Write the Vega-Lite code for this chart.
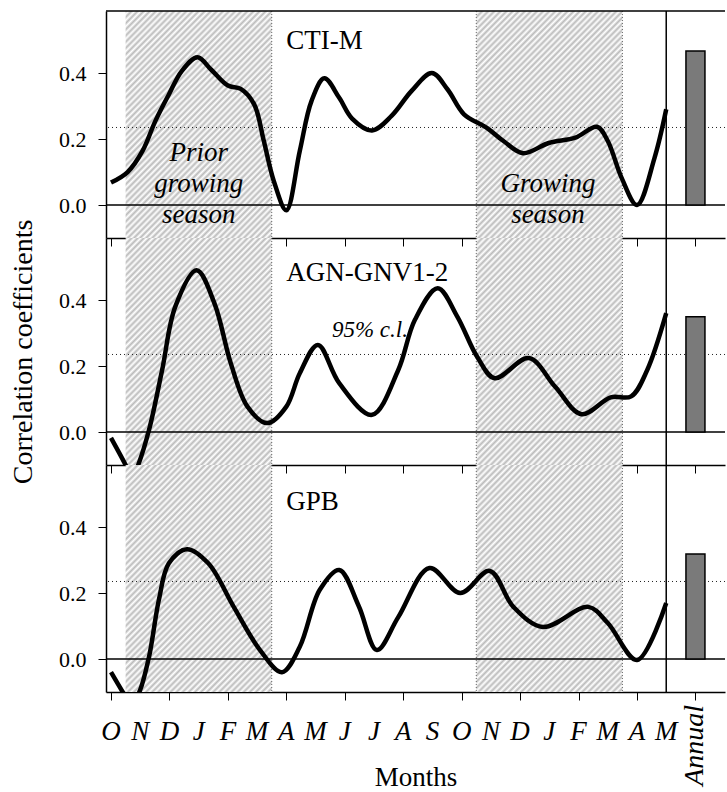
{
"$schema": "https://vega.github.io/schema/vega-lite/v6.json",
"padding": {"left": 9, "top": 10, "right": 0, "bottom": 0},
"bounds": "flush",
"spacing": 0,
"config": {
  "view": {"stroke": null},
  "font": "Liberation Serif",
  "axis": {"grid": false, "domainColor": "#000", "domainWidth": 1.5, "tickColor": "#000", "tickWidth": 1, "tickSize": 8, "labelColor": "#000", "labelFont": "Liberation Serif", "titleColor": "#000", "titleFont": "Liberation Serif", "titleFontWeight": "normal", "labelOverlap": false, "labelFlush": false}
},
"datasets": {
  "curves": [
    {"panel":"CTI-M","m":0,"r":0.068},{"panel":"CTI-M","m":0.57,"r":0.1},{"panel":"CTI-M","m":1.08,"r":0.164},{"panel":"CTI-M","m":1.52,"r":0.255},{"panel":"CTI-M","m":1.98,"r":0.335},{"panel":"CTI-M","m":2.42,"r":0.406},{"panel":"CTI-M","m":2.96,"r":0.448},{"panel":"CTI-M","m":3.43,"r":0.41},{"panel":"CTI-M","m":4.0,"r":0.362},{"panel":"CTI-M","m":4.44,"r":0.352},{"panel":"CTI-M","m":4.9,"r":0.305},{"panel":"CTI-M","m":5.23,"r":0.194},{"panel":"CTI-M","m":5.57,"r":0.073},{"panel":"CTI-M","m":6.0,"r":-0.016},{"panel":"CTI-M","m":6.46,"r":0.164},{"panel":"CTI-M","m":6.86,"r":0.315},{"panel":"CTI-M","m":7.3,"r":0.384},{"panel":"CTI-M","m":7.81,"r":0.325},{"panel":"CTI-M","m":8.25,"r":0.262},{"panel":"CTI-M","m":8.93,"r":0.226},{"panel":"CTI-M","m":9.6,"r":0.27},{"panel":"CTI-M","m":10.28,"r":0.345},{"panel":"CTI-M","m":10.98,"r":0.4},{"panel":"CTI-M","m":11.52,"r":0.35},{"panel":"CTI-M","m":12.08,"r":0.275},{"panel":"CTI-M","m":12.86,"r":0.234},{"panel":"CTI-M","m":13.43,"r":0.194},{"panel":"CTI-M","m":14.1,"r":0.157},{"panel":"CTI-M","m":14.98,"r":0.188},{"panel":"CTI-M","m":15.89,"r":0.204},{"panel":"CTI-M","m":16.63,"r":0.237},{"panel":"CTI-M","m":17.0,"r":0.194},{"panel":"CTI-M","m":17.47,"r":0.083},{"panel":"CTI-M","m":18.0,"r":0.0},{"panel":"CTI-M","m":18.6,"r":0.143},{"panel":"CTI-M","m":19.0,"r":0.29},
    {"panel":"AGN-GNV1-2","m":0,"r":-0.018},{"panel":"AGN-GNV1-2","m":0.5,"r":-0.1},{"panel":"AGN-GNV1-2","m":0.72,"r":-0.14},{"panel":"AGN-GNV1-2","m":0.93,"r":-0.1},{"panel":"AGN-GNV1-2","m":1.3,"r":0.006},{"panel":"AGN-GNV1-2","m":1.75,"r":0.188},{"panel":"AGN-GNV1-2","m":2.2,"r":0.38},{"panel":"AGN-GNV1-2","m":2.93,"r":0.49},{"panel":"AGN-GNV1-2","m":3.54,"r":0.39},{"panel":"AGN-GNV1-2","m":4.1,"r":0.208},{"panel":"AGN-GNV1-2","m":4.67,"r":0.077},{"panel":"AGN-GNV1-2","m":5.35,"r":0.027},{"panel":"AGN-GNV1-2","m":6.0,"r":0.077},{"panel":"AGN-GNV1-2","m":6.46,"r":0.178},{"panel":"AGN-GNV1-2","m":7.08,"r":0.264},{"panel":"AGN-GNV1-2","m":7.81,"r":0.148},{"panel":"AGN-GNV1-2","m":8.93,"r":0.052},{"panel":"AGN-GNV1-2","m":9.83,"r":0.188},{"panel":"AGN-GNV1-2","m":10.4,"r":0.34},{"panel":"AGN-GNV1-2","m":11.18,"r":0.436},{"panel":"AGN-GNV1-2","m":11.85,"r":0.35},{"panel":"AGN-GNV1-2","m":12.53,"r":0.228},{"panel":"AGN-GNV1-2","m":13.13,"r":0.163},{"panel":"AGN-GNV1-2","m":14.3,"r":0.224},{"panel":"AGN-GNV1-2","m":15.2,"r":0.137},{"panel":"AGN-GNV1-2","m":16.1,"r":0.054},{"panel":"AGN-GNV1-2","m":17.1,"r":0.105},{"panel":"AGN-GNV1-2","m":17.8,"r":0.108},{"panel":"AGN-GNV1-2","m":18.35,"r":0.188},{"panel":"AGN-GNV1-2","m":19.0,"r":0.36},
    {"panel":"GPB","m":0,"r":-0.04},{"panel":"GPB","m":0.4,"r":-0.1},{"panel":"GPB","m":0.68,"r":-0.14},{"panel":"GPB","m":0.97,"r":-0.1},{"panel":"GPB","m":1.3,"r":0.006},{"panel":"GPB","m":1.64,"r":0.18},{"panel":"GPB","m":1.98,"r":0.29},{"panel":"GPB","m":2.6,"r":0.333},{"panel":"GPB","m":3.33,"r":0.29},{"panel":"GPB","m":4.2,"r":0.158},{"panel":"GPB","m":5.1,"r":0.027},{"panel":"GPB","m":5.85,"r":-0.04},{"panel":"GPB","m":6.46,"r":0.037},{"panel":"GPB","m":7.14,"r":0.209},{"panel":"GPB","m":7.81,"r":0.27},{"panel":"GPB","m":8.48,"r":0.16},{"panel":"GPB","m":9.1,"r":0.027},{"panel":"GPB","m":9.83,"r":0.127},{"panel":"GPB","m":10.9,"r":0.276},{"panel":"GPB","m":11.95,"r":0.2},{"panel":"GPB","m":12.96,"r":0.267},{"panel":"GPB","m":13.77,"r":0.158},{"panel":"GPB","m":14.78,"r":0.097},{"panel":"GPB","m":16.33,"r":0.158},{"panel":"GPB","m":17.0,"r":0.109},{"panel":"GPB","m":18.0,"r":-0.003},{"panel":"GPB","m":19.0,"r":0.17}
  ],
  "annual": [{"panel":"CTI-M","m":20,"r":0.467},{"panel":"AGN-GNV1-2","m":20,"r":0.349},{"panel":"GPB","m":20,"r":0.318}],
  "seasons": [{"season":"Prior growing season","start":0.5,"end":5.5},{"season":"Growing season","start":12.5,"end":17.5}],
  "dividers": [{"m":5.5},{"m":12.5},{"m":17.5}],
  "refs": [{"cl95":0.235}],
  "months": [{"m":0,"label":"O"},{"m":1,"label":"N"},{"m":2,"label":"D"},{"m":3,"label":"J"},{"m":4,"label":"F"},{"m":5,"label":"M"},{"m":6,"label":"A"},{"m":7,"label":"M"},{"m":8,"label":"J"},{"m":9,"label":"J"},{"m":10,"label":"A"},{"m":11,"label":"S"},{"m":12,"label":"O"},{"m":13,"label":"N"},{"m":14,"label":"D"},{"m":15,"label":"J"},{"m":16,"label":"F"},{"m":17,"label":"M"},{"m":18,"label":"A"},{"m":19,"label":"M"}]
},
"vconcat": [
 {
  "width": 619, "height": 227,
  "layer": [
   {"data": {"name": "seasons"}, "mark": {"type": "rect", "stroke": null, "fill": {"gradient": "linear", "x1": 0, "y1": 0, "x2": 1, "y2": 1.53, "stops": [
{"offset":0,"color":"#bbb"},{"offset":0.00625,"color":"#fff"},{"offset":0.0125,"color":"#bbb"},{"offset":0.01875,"color":"#fff"},{"offset":0.025,"color":"#bbb"},{"offset":0.03125,"color":"#fff"},{"offset":0.0375,"color":"#bbb"},{"offset":0.04375,"color":"#fff"},{"offset":0.05,"color":"#bbb"},{"offset":0.05625,"color":"#fff"},{"offset":0.0625,"color":"#bbb"},{"offset":0.06875,"color":"#fff"},{"offset":0.075,"color":"#bbb"},{"offset":0.08125,"color":"#fff"},{"offset":0.0875,"color":"#bbb"},{"offset":0.09375,"color":"#fff"},
{"offset":0.1,"color":"#bbb"},{"offset":0.10625,"color":"#fff"},{"offset":0.1125,"color":"#bbb"},{"offset":0.11875,"color":"#fff"},{"offset":0.125,"color":"#bbb"},{"offset":0.13125,"color":"#fff"},{"offset":0.1375,"color":"#bbb"},{"offset":0.14375,"color":"#fff"},{"offset":0.15,"color":"#bbb"},{"offset":0.15625,"color":"#fff"},{"offset":0.1625,"color":"#bbb"},{"offset":0.16875,"color":"#fff"},{"offset":0.175,"color":"#bbb"},{"offset":0.18125,"color":"#fff"},{"offset":0.1875,"color":"#bbb"},{"offset":0.19375,"color":"#fff"},
{"offset":0.2,"color":"#bbb"},{"offset":0.20625,"color":"#fff"},{"offset":0.2125,"color":"#bbb"},{"offset":0.21875,"color":"#fff"},{"offset":0.225,"color":"#bbb"},{"offset":0.23125,"color":"#fff"},{"offset":0.2375,"color":"#bbb"},{"offset":0.24375,"color":"#fff"},{"offset":0.25,"color":"#bbb"},{"offset":0.25625,"color":"#fff"},{"offset":0.2625,"color":"#bbb"},{"offset":0.26875,"color":"#fff"},{"offset":0.275,"color":"#bbb"},{"offset":0.28125,"color":"#fff"},{"offset":0.2875,"color":"#bbb"},{"offset":0.29375,"color":"#fff"},
{"offset":0.3,"color":"#bbb"},{"offset":0.30625,"color":"#fff"},{"offset":0.3125,"color":"#bbb"},{"offset":0.31875,"color":"#fff"},{"offset":0.325,"color":"#bbb"},{"offset":0.33125,"color":"#fff"},{"offset":0.3375,"color":"#bbb"},{"offset":0.34375,"color":"#fff"},{"offset":0.35,"color":"#bbb"},{"offset":0.35625,"color":"#fff"},{"offset":0.3625,"color":"#bbb"},{"offset":0.36875,"color":"#fff"},{"offset":0.375,"color":"#bbb"},{"offset":0.38125,"color":"#fff"},{"offset":0.3875,"color":"#bbb"},{"offset":0.39375,"color":"#fff"},
{"offset":0.4,"color":"#bbb"},{"offset":0.40625,"color":"#fff"},{"offset":0.4125,"color":"#bbb"},{"offset":0.41875,"color":"#fff"},{"offset":0.425,"color":"#bbb"},{"offset":0.43125,"color":"#fff"},{"offset":0.4375,"color":"#bbb"},{"offset":0.44375,"color":"#fff"},{"offset":0.45,"color":"#bbb"},{"offset":0.45625,"color":"#fff"},{"offset":0.4625,"color":"#bbb"},{"offset":0.46875,"color":"#fff"},{"offset":0.475,"color":"#bbb"},{"offset":0.48125,"color":"#fff"},{"offset":0.4875,"color":"#bbb"},{"offset":0.49375,"color":"#fff"},
{"offset":0.5,"color":"#bbb"},{"offset":0.50625,"color":"#fff"},{"offset":0.5125,"color":"#bbb"},{"offset":0.51875,"color":"#fff"},{"offset":0.525,"color":"#bbb"},{"offset":0.53125,"color":"#fff"},{"offset":0.5375,"color":"#bbb"},{"offset":0.54375,"color":"#fff"},{"offset":0.55,"color":"#bbb"},{"offset":0.55625,"color":"#fff"},{"offset":0.5625,"color":"#bbb"},{"offset":0.56875,"color":"#fff"},{"offset":0.575,"color":"#bbb"},{"offset":0.58125,"color":"#fff"},{"offset":0.5875,"color":"#bbb"},{"offset":0.59375,"color":"#fff"},
{"offset":0.6,"color":"#bbb"},{"offset":0.60625,"color":"#fff"},{"offset":0.6125,"color":"#bbb"},{"offset":0.61875,"color":"#fff"},{"offset":0.625,"color":"#bbb"},{"offset":0.63125,"color":"#fff"},{"offset":0.6375,"color":"#bbb"},{"offset":0.64375,"color":"#fff"},{"offset":0.65,"color":"#bbb"},{"offset":0.65625,"color":"#fff"},{"offset":0.6625,"color":"#bbb"},{"offset":0.66875,"color":"#fff"},{"offset":0.675,"color":"#bbb"},{"offset":0.68125,"color":"#fff"},{"offset":0.6875,"color":"#bbb"},{"offset":0.69375,"color":"#fff"},
{"offset":0.7,"color":"#bbb"},{"offset":0.70625,"color":"#fff"},{"offset":0.7125,"color":"#bbb"},{"offset":0.71875,"color":"#fff"},{"offset":0.725,"color":"#bbb"},{"offset":0.73125,"color":"#fff"},{"offset":0.7375,"color":"#bbb"},{"offset":0.74375,"color":"#fff"},{"offset":0.75,"color":"#bbb"},{"offset":0.75625,"color":"#fff"},{"offset":0.7625,"color":"#bbb"}
    ]}},
    "encoding": {"x": {"field": "start", "type": "quantitative", "scale": {"domain": [0, 20.84], "nice": false, "zero": false}, "title": ""}, "x2": {"field": "end"},
     "y": {"datum": 0.588, "type": "quantitative", "scale": {"domain": [-0.1, 0.588], "nice": false, "zero": false}, "title": ""}, "y2": {"datum": -0.1}}},
   {"data": {"name": "dividers"}, "mark": {"type": "rule", "stroke": "#666", "strokeWidth": 1, "strokeDash": [1, 2]},
    "encoding": {"x": {"field": "m", "type": "quantitative", "scale": {"domain": [0, 20.84], "nice": false, "zero": false}, "title": ""}}},
   {"data": {"name": "refs"}, "mark": {"type": "rule", "stroke": "#222", "strokeWidth": 1, "strokeDash": [1, 3]},
    "encoding": {"y": {"field": "cl95", "type": "quantitative", "scale": {"domain": [-0.1, 0.588], "nice": false, "zero": false}, "title": ""}}},
   {"data": {"name": "refs"}, "mark": {"type": "rule", "stroke": "#000", "strokeWidth": 1.5},
    "encoding": {"y": {"datum": 0, "type": "quantitative", "scale": {"domain": [-0.1, 0.588], "nice": false, "zero": false}, "title": ""}}},
   {"data": {"name": "refs"}, "mark": {"type": "rule", "stroke": "#000", "strokeWidth": 1.5},
    "encoding": {"y": {"datum": 0.588, "type": "quantitative", "scale": {"domain": [-0.1, 0.588], "nice": false, "zero": false}, "title": ""}}},
   {"data": {"name": "refs"}, "mark": {"type": "rule", "stroke": "#000", "strokeWidth": 1.5},
    "encoding": {"x": {"datum": 19, "type": "quantitative", "scale": {"domain": [0, 20.84], "nice": false, "zero": false}, "title": ""}}},
   {"data": {"name": "annual"}, "transform": [{"filter": "datum.panel === 'CTI-M'"}], "mark": {"type": "bar", "width": 19, "fill": "#7a7a7a", "stroke": "#000", "strokeWidth": 1.5},
    "encoding": {"x": {"field": "m", "type": "quantitative", "scale": {"domain": [0, 20.84], "nice": false, "zero": false}, "title": ""},
     "y": {"field": "r", "type": "quantitative", "scale": {"domain": [-0.1, 0.588], "nice": false, "zero": false}, "title": ""}, "y2": {"datum": 0}}},
   {"data": {"name": "curves"}, "transform": [{"filter": "datum.panel === 'CTI-M'"}], "mark": {"type": "line", "interpolate": "catmull-rom", "stroke": "#000", "strokeWidth": 4.5, "clip": true},
    "encoding": {"x": {"field": "m", "type": "quantitative", "scale": {"domain": [0, 20.84], "nice": false, "zero": false}, "title": "", "axis": {"values": [0,1,2,3,4,5,6,7,8,9,10,11,12,13,14,15,16,17,18,19,20], "labels": false}},
     "y": {"field": "r", "type": "quantitative", "scale": {"domain": [-0.1, 0.588], "nice": false, "zero": false}, "title": "", "axis": {"values": [0, 0.2, 0.4], "format": ".1f", "labelFontSize": 22, "labelPadding": 12}}}},
   {"data": {"values": [{"label": "CTI-M"}]}, "mark": {"type": "text", "align": "left", "baseline": "middle", "fontSize": 27, "font": "Liberation Serif", "color": "#000"},
    "encoding": {"x": {"datum": 6, "type": "quantitative", "scale": {"domain": [0, 20.84], "nice": false, "zero": false}, "title": ""}, "y": {"datum": 0.497, "type": "quantitative", "scale": {"domain": [-0.1, 0.588], "nice": false, "zero": false}, "title": ""}, "text": {"field": "label"}}},
   {"data": {"values": [{"label": "Prior\ngrowing\nseason"}]}, "mark": {"type": "text", "align": "center", "baseline": "middle", "lineBreak": "\n", "lineHeight": 31, "fontSize": 27, "fontStyle": "italic", "font": "Liberation Serif", "color": "#000"},
    "encoding": {"x": {"datum": 3.0, "type": "quantitative", "scale": {"domain": [0, 20.84], "nice": false, "zero": false}, "title": ""}, "y": {"datum": 0.158, "type": "quantitative", "scale": {"domain": [-0.1, 0.588], "nice": false, "zero": false}, "title": ""}, "text": {"field": "label"}}},
   {"data": {"values": [{"label": "Growing\nseason"}]}, "mark": {"type": "text", "align": "center", "baseline": "middle", "lineBreak": "\n", "lineHeight": 31, "fontSize": 27, "fontStyle": "italic", "font": "Liberation Serif", "color": "#000"},
    "encoding": {"x": {"datum": 14.95, "type": "quantitative", "scale": {"domain": [0, 20.84], "nice": false, "zero": false}, "title": ""}, "y": {"datum": 0.064, "type": "quantitative", "scale": {"domain": [-0.1, 0.588], "nice": false, "zero": false}, "title": ""}, "text": {"field": "label"}}}
  ]
 },
 {
  "width": 619, "height": 227,
  "layer": [
   {"data": {"name": "seasons"}, "mark": {"type": "rect", "stroke": null, "fill": {"gradient": "linear", "x1": 0, "y1": 0, "x2": 1, "y2": 1.53, "stops": [
{"offset":0,"color":"#bbb"},{"offset":0.00625,"color":"#fff"},{"offset":0.0125,"color":"#bbb"},{"offset":0.01875,"color":"#fff"},{"offset":0.025,"color":"#bbb"},{"offset":0.03125,"color":"#fff"},{"offset":0.0375,"color":"#bbb"},{"offset":0.04375,"color":"#fff"},{"offset":0.05,"color":"#bbb"},{"offset":0.05625,"color":"#fff"},{"offset":0.0625,"color":"#bbb"},{"offset":0.06875,"color":"#fff"},{"offset":0.075,"color":"#bbb"},{"offset":0.08125,"color":"#fff"},{"offset":0.0875,"color":"#bbb"},{"offset":0.09375,"color":"#fff"},
{"offset":0.1,"color":"#bbb"},{"offset":0.10625,"color":"#fff"},{"offset":0.1125,"color":"#bbb"},{"offset":0.11875,"color":"#fff"},{"offset":0.125,"color":"#bbb"},{"offset":0.13125,"color":"#fff"},{"offset":0.1375,"color":"#bbb"},{"offset":0.14375,"color":"#fff"},{"offset":0.15,"color":"#bbb"},{"offset":0.15625,"color":"#fff"},{"offset":0.1625,"color":"#bbb"},{"offset":0.16875,"color":"#fff"},{"offset":0.175,"color":"#bbb"},{"offset":0.18125,"color":"#fff"},{"offset":0.1875,"color":"#bbb"},{"offset":0.19375,"color":"#fff"},
{"offset":0.2,"color":"#bbb"},{"offset":0.20625,"color":"#fff"},{"offset":0.2125,"color":"#bbb"},{"offset":0.21875,"color":"#fff"},{"offset":0.225,"color":"#bbb"},{"offset":0.23125,"color":"#fff"},{"offset":0.2375,"color":"#bbb"},{"offset":0.24375,"color":"#fff"},{"offset":0.25,"color":"#bbb"},{"offset":0.25625,"color":"#fff"},{"offset":0.2625,"color":"#bbb"},{"offset":0.26875,"color":"#fff"},{"offset":0.275,"color":"#bbb"},{"offset":0.28125,"color":"#fff"},{"offset":0.2875,"color":"#bbb"},{"offset":0.29375,"color":"#fff"},
{"offset":0.3,"color":"#bbb"},{"offset":0.30625,"color":"#fff"},{"offset":0.3125,"color":"#bbb"},{"offset":0.31875,"color":"#fff"},{"offset":0.325,"color":"#bbb"},{"offset":0.33125,"color":"#fff"},{"offset":0.3375,"color":"#bbb"},{"offset":0.34375,"color":"#fff"},{"offset":0.35,"color":"#bbb"},{"offset":0.35625,"color":"#fff"},{"offset":0.3625,"color":"#bbb"},{"offset":0.36875,"color":"#fff"},{"offset":0.375,"color":"#bbb"},{"offset":0.38125,"color":"#fff"},{"offset":0.3875,"color":"#bbb"},{"offset":0.39375,"color":"#fff"},
{"offset":0.4,"color":"#bbb"},{"offset":0.40625,"color":"#fff"},{"offset":0.4125,"color":"#bbb"},{"offset":0.41875,"color":"#fff"},{"offset":0.425,"color":"#bbb"},{"offset":0.43125,"color":"#fff"},{"offset":0.4375,"color":"#bbb"},{"offset":0.44375,"color":"#fff"},{"offset":0.45,"color":"#bbb"},{"offset":0.45625,"color":"#fff"},{"offset":0.4625,"color":"#bbb"},{"offset":0.46875,"color":"#fff"},{"offset":0.475,"color":"#bbb"},{"offset":0.48125,"color":"#fff"},{"offset":0.4875,"color":"#bbb"},{"offset":0.49375,"color":"#fff"},
{"offset":0.5,"color":"#bbb"},{"offset":0.50625,"color":"#fff"},{"offset":0.5125,"color":"#bbb"},{"offset":0.51875,"color":"#fff"},{"offset":0.525,"color":"#bbb"},{"offset":0.53125,"color":"#fff"},{"offset":0.5375,"color":"#bbb"},{"offset":0.54375,"color":"#fff"},{"offset":0.55,"color":"#bbb"},{"offset":0.55625,"color":"#fff"},{"offset":0.5625,"color":"#bbb"},{"offset":0.56875,"color":"#fff"},{"offset":0.575,"color":"#bbb"},{"offset":0.58125,"color":"#fff"},{"offset":0.5875,"color":"#bbb"},{"offset":0.59375,"color":"#fff"},
{"offset":0.6,"color":"#bbb"},{"offset":0.60625,"color":"#fff"},{"offset":0.6125,"color":"#bbb"},{"offset":0.61875,"color":"#fff"},{"offset":0.625,"color":"#bbb"},{"offset":0.63125,"color":"#fff"},{"offset":0.6375,"color":"#bbb"},{"offset":0.64375,"color":"#fff"},{"offset":0.65,"color":"#bbb"},{"offset":0.65625,"color":"#fff"},{"offset":0.6625,"color":"#bbb"},{"offset":0.66875,"color":"#fff"},{"offset":0.675,"color":"#bbb"},{"offset":0.68125,"color":"#fff"},{"offset":0.6875,"color":"#bbb"},{"offset":0.69375,"color":"#fff"},
{"offset":0.7,"color":"#bbb"},{"offset":0.70625,"color":"#fff"},{"offset":0.7125,"color":"#bbb"},{"offset":0.71875,"color":"#fff"},{"offset":0.725,"color":"#bbb"},{"offset":0.73125,"color":"#fff"},{"offset":0.7375,"color":"#bbb"},{"offset":0.74375,"color":"#fff"},{"offset":0.75,"color":"#bbb"},{"offset":0.75625,"color":"#fff"},{"offset":0.7625,"color":"#bbb"}
    ]}},
    "encoding": {"x": {"field": "start", "type": "quantitative", "scale": {"domain": [0, 20.84], "nice": false, "zero": false}, "title": ""}, "x2": {"field": "end"},
     "y": {"datum": 0.588, "type": "quantitative", "scale": {"domain": [-0.1, 0.588], "nice": false, "zero": false}, "title": ""}, "y2": {"datum": -0.1}}},
   {"data": {"name": "dividers"}, "mark": {"type": "rule", "stroke": "#666", "strokeWidth": 1, "strokeDash": [1, 2]},
    "encoding": {"x": {"field": "m", "type": "quantitative", "scale": {"domain": [0, 20.84], "nice": false, "zero": false}, "title": ""}}},
   {"data": {"name": "refs"}, "mark": {"type": "rule", "stroke": "#222", "strokeWidth": 1, "strokeDash": [1, 3]},
    "encoding": {"y": {"field": "cl95", "type": "quantitative", "scale": {"domain": [-0.1, 0.588], "nice": false, "zero": false}, "title": ""}}},
   {"data": {"name": "refs"}, "mark": {"type": "rule", "stroke": "#000", "strokeWidth": 1.5},
    "encoding": {"y": {"datum": 0, "type": "quantitative", "scale": {"domain": [-0.1, 0.588], "nice": false, "zero": false}, "title": ""}}},
   {"data": {"name": "refs"}, "mark": {"type": "rule", "stroke": "#000", "strokeWidth": 1.5},
    "encoding": {"x": {"datum": 19, "type": "quantitative", "scale": {"domain": [0, 20.84], "nice": false, "zero": false}, "title": ""}}},
   {"data": {"name": "annual"}, "transform": [{"filter": "datum.panel === 'AGN-GNV1-2'"}], "mark": {"type": "bar", "width": 19, "fill": "#7a7a7a", "stroke": "#000", "strokeWidth": 1.5},
    "encoding": {"x": {"field": "m", "type": "quantitative", "scale": {"domain": [0, 20.84], "nice": false, "zero": false}, "title": ""},
     "y": {"field": "r", "type": "quantitative", "scale": {"domain": [-0.1, 0.588], "nice": false, "zero": false}, "title": ""}, "y2": {"datum": 0}}},
   {"data": {"name": "curves"}, "transform": [{"filter": "datum.panel === 'AGN-GNV1-2'"}], "mark": {"type": "line", "interpolate": "catmull-rom", "stroke": "#000", "strokeWidth": 4.5, "clip": true},
    "encoding": {"x": {"field": "m", "type": "quantitative", "scale": {"domain": [0, 20.84], "nice": false, "zero": false}, "title": "", "axis": {"values": [0,1,2,3,4,5,6,7,8,9,10,11,12,13,14,15,16,17,18,19,20], "labels": false}},
     "y": {"field": "r", "type": "quantitative", "scale": {"domain": [-0.1, 0.588], "nice": false, "zero": false}, "title": "Correlation coefficients", "axis": {"values": [0, 0.2, 0.4], "format": ".1f", "labelFontSize": 22, "labelPadding": 12, "titleFontSize": 28, "titlePadding": 21}}}},
   {"data": {"values": [{"label": "AGN-GNV1-2"}]}, "mark": {"type": "text", "align": "left", "baseline": "middle", "fontSize": 27, "font": "Liberation Serif", "color": "#000"},
    "encoding": {"x": {"datum": 6, "type": "quantitative", "scale": {"domain": [0, 20.84], "nice": false, "zero": false}, "title": ""}, "y": {"datum": 0.482, "type": "quantitative", "scale": {"domain": [-0.1, 0.588], "nice": false, "zero": false}, "title": ""}, "text": {"field": "label"}}},
   {"data": {"values": [{"label": "95% c.l."}]}, "mark": {"type": "text", "align": "center", "baseline": "middle", "fontSize": 23, "fontStyle": "italic", "font": "Liberation Serif", "color": "#000"},
    "encoding": {"x": {"datum": 8.86, "type": "quantitative", "scale": {"domain": [0, 20.84], "nice": false, "zero": false}, "title": ""}, "y": {"datum": 0.31, "type": "quantitative", "scale": {"domain": [-0.1, 0.588], "nice": false, "zero": false}, "title": ""}, "text": {"field": "label"}}}
  ]
 },
 {
  "width": 619, "height": 227,
  "layer": [
   {"data": {"name": "seasons"}, "mark": {"type": "rect", "stroke": null, "fill": {"gradient": "linear", "x1": 0, "y1": 0, "x2": 1, "y2": 1.53, "stops": [
{"offset":0,"color":"#bbb"},{"offset":0.00625,"color":"#fff"},{"offset":0.0125,"color":"#bbb"},{"offset":0.01875,"color":"#fff"},{"offset":0.025,"color":"#bbb"},{"offset":0.03125,"color":"#fff"},{"offset":0.0375,"color":"#bbb"},{"offset":0.04375,"color":"#fff"},{"offset":0.05,"color":"#bbb"},{"offset":0.05625,"color":"#fff"},{"offset":0.0625,"color":"#bbb"},{"offset":0.06875,"color":"#fff"},{"offset":0.075,"color":"#bbb"},{"offset":0.08125,"color":"#fff"},{"offset":0.0875,"color":"#bbb"},{"offset":0.09375,"color":"#fff"},
{"offset":0.1,"color":"#bbb"},{"offset":0.10625,"color":"#fff"},{"offset":0.1125,"color":"#bbb"},{"offset":0.11875,"color":"#fff"},{"offset":0.125,"color":"#bbb"},{"offset":0.13125,"color":"#fff"},{"offset":0.1375,"color":"#bbb"},{"offset":0.14375,"color":"#fff"},{"offset":0.15,"color":"#bbb"},{"offset":0.15625,"color":"#fff"},{"offset":0.1625,"color":"#bbb"},{"offset":0.16875,"color":"#fff"},{"offset":0.175,"color":"#bbb"},{"offset":0.18125,"color":"#fff"},{"offset":0.1875,"color":"#bbb"},{"offset":0.19375,"color":"#fff"},
{"offset":0.2,"color":"#bbb"},{"offset":0.20625,"color":"#fff"},{"offset":0.2125,"color":"#bbb"},{"offset":0.21875,"color":"#fff"},{"offset":0.225,"color":"#bbb"},{"offset":0.23125,"color":"#fff"},{"offset":0.2375,"color":"#bbb"},{"offset":0.24375,"color":"#fff"},{"offset":0.25,"color":"#bbb"},{"offset":0.25625,"color":"#fff"},{"offset":0.2625,"color":"#bbb"},{"offset":0.26875,"color":"#fff"},{"offset":0.275,"color":"#bbb"},{"offset":0.28125,"color":"#fff"},{"offset":0.2875,"color":"#bbb"},{"offset":0.29375,"color":"#fff"},
{"offset":0.3,"color":"#bbb"},{"offset":0.30625,"color":"#fff"},{"offset":0.3125,"color":"#bbb"},{"offset":0.31875,"color":"#fff"},{"offset":0.325,"color":"#bbb"},{"offset":0.33125,"color":"#fff"},{"offset":0.3375,"color":"#bbb"},{"offset":0.34375,"color":"#fff"},{"offset":0.35,"color":"#bbb"},{"offset":0.35625,"color":"#fff"},{"offset":0.3625,"color":"#bbb"},{"offset":0.36875,"color":"#fff"},{"offset":0.375,"color":"#bbb"},{"offset":0.38125,"color":"#fff"},{"offset":0.3875,"color":"#bbb"},{"offset":0.39375,"color":"#fff"},
{"offset":0.4,"color":"#bbb"},{"offset":0.40625,"color":"#fff"},{"offset":0.4125,"color":"#bbb"},{"offset":0.41875,"color":"#fff"},{"offset":0.425,"color":"#bbb"},{"offset":0.43125,"color":"#fff"},{"offset":0.4375,"color":"#bbb"},{"offset":0.44375,"color":"#fff"},{"offset":0.45,"color":"#bbb"},{"offset":0.45625,"color":"#fff"},{"offset":0.4625,"color":"#bbb"},{"offset":0.46875,"color":"#fff"},{"offset":0.475,"color":"#bbb"},{"offset":0.48125,"color":"#fff"},{"offset":0.4875,"color":"#bbb"},{"offset":0.49375,"color":"#fff"},
{"offset":0.5,"color":"#bbb"},{"offset":0.50625,"color":"#fff"},{"offset":0.5125,"color":"#bbb"},{"offset":0.51875,"color":"#fff"},{"offset":0.525,"color":"#bbb"},{"offset":0.53125,"color":"#fff"},{"offset":0.5375,"color":"#bbb"},{"offset":0.54375,"color":"#fff"},{"offset":0.55,"color":"#bbb"},{"offset":0.55625,"color":"#fff"},{"offset":0.5625,"color":"#bbb"},{"offset":0.56875,"color":"#fff"},{"offset":0.575,"color":"#bbb"},{"offset":0.58125,"color":"#fff"},{"offset":0.5875,"color":"#bbb"},{"offset":0.59375,"color":"#fff"},
{"offset":0.6,"color":"#bbb"},{"offset":0.60625,"color":"#fff"},{"offset":0.6125,"color":"#bbb"},{"offset":0.61875,"color":"#fff"},{"offset":0.625,"color":"#bbb"},{"offset":0.63125,"color":"#fff"},{"offset":0.6375,"color":"#bbb"},{"offset":0.64375,"color":"#fff"},{"offset":0.65,"color":"#bbb"},{"offset":0.65625,"color":"#fff"},{"offset":0.6625,"color":"#bbb"},{"offset":0.66875,"color":"#fff"},{"offset":0.675,"color":"#bbb"},{"offset":0.68125,"color":"#fff"},{"offset":0.6875,"color":"#bbb"},{"offset":0.69375,"color":"#fff"},
{"offset":0.7,"color":"#bbb"},{"offset":0.70625,"color":"#fff"},{"offset":0.7125,"color":"#bbb"},{"offset":0.71875,"color":"#fff"},{"offset":0.725,"color":"#bbb"},{"offset":0.73125,"color":"#fff"},{"offset":0.7375,"color":"#bbb"},{"offset":0.74375,"color":"#fff"},{"offset":0.75,"color":"#bbb"},{"offset":0.75625,"color":"#fff"},{"offset":0.7625,"color":"#bbb"}
    ]}},
    "encoding": {"x": {"field": "start", "type": "quantitative", "scale": {"domain": [0, 20.84], "nice": false, "zero": false}, "title": ""}, "x2": {"field": "end"},
     "y": {"datum": 0.588, "type": "quantitative", "scale": {"domain": [-0.1, 0.588], "nice": false, "zero": false}, "title": ""}, "y2": {"datum": -0.1}}},
   {"data": {"name": "dividers"}, "mark": {"type": "rule", "stroke": "#666", "strokeWidth": 1, "strokeDash": [1, 2]},
    "encoding": {"x": {"field": "m", "type": "quantitative", "scale": {"domain": [0, 20.84], "nice": false, "zero": false}, "title": ""}}},
   {"data": {"name": "refs"}, "mark": {"type": "rule", "stroke": "#222", "strokeWidth": 1, "strokeDash": [1, 3]},
    "encoding": {"y": {"field": "cl95", "type": "quantitative", "scale": {"domain": [-0.1, 0.588], "nice": false, "zero": false}, "title": ""}}},
   {"data": {"name": "refs"}, "mark": {"type": "rule", "stroke": "#000", "strokeWidth": 1.5},
    "encoding": {"y": {"datum": 0, "type": "quantitative", "scale": {"domain": [-0.1, 0.588], "nice": false, "zero": false}, "title": ""}}},
   {"data": {"name": "refs"}, "mark": {"type": "rule", "stroke": "#000", "strokeWidth": 1.5},
    "encoding": {"x": {"datum": 19, "type": "quantitative", "scale": {"domain": [0, 20.84], "nice": false, "zero": false}, "title": ""}}},
   {"data": {"name": "annual"}, "transform": [{"filter": "datum.panel === 'GPB'"}], "mark": {"type": "bar", "width": 19, "fill": "#7a7a7a", "stroke": "#000", "strokeWidth": 1.5},
    "encoding": {"x": {"field": "m", "type": "quantitative", "scale": {"domain": [0, 20.84], "nice": false, "zero": false}, "title": ""},
     "y": {"field": "r", "type": "quantitative", "scale": {"domain": [-0.1, 0.588], "nice": false, "zero": false}, "title": ""}, "y2": {"datum": 0}}},
   {"data": {"name": "curves"}, "transform": [{"filter": "datum.panel === 'GPB'"}], "mark": {"type": "line", "interpolate": "catmull-rom", "stroke": "#000", "strokeWidth": 4.5, "clip": true},
    "encoding": {"x": {"field": "m", "type": "quantitative", "scale": {"domain": [0, 20.84], "nice": false, "zero": false}, "title": "Months", "axis": {"values": [0,1,2,3,4,5,6,7,8,9,10,11,12,13,14,15,16,17,18,19,20],
        "labels": false, "titleFontSize": 27, "titleBaseline": "alphabetic", "titleY": 93}},
     "y": {"field": "r", "type": "quantitative", "scale": {"domain": [-0.1, 0.588], "nice": false, "zero": false}, "title": "", "axis": {"values": [0, 0.2, 0.4], "format": ".1f", "labelFontSize": 22, "labelPadding": 12}}}},
   {"data": {"values": [{"label": "GPB"}]}, "mark": {"type": "text", "align": "left", "baseline": "middle", "fontSize": 27, "font": "Liberation Serif", "color": "#000"},
    "encoding": {"x": {"datum": 6, "type": "quantitative", "scale": {"domain": [0, 20.84], "nice": false, "zero": false}, "title": ""}, "y": {"datum": 0.476, "type": "quantitative", "scale": {"domain": [-0.1, 0.588], "nice": false, "zero": false}, "title": ""}, "text": {"field": "label"}}},
   {"data": {"name": "months"}, "mark": {"type": "text", "align": "center", "baseline": "alphabetic", "fontSize": 27, "fontStyle": "italic", "font": "Liberation Serif", "color": "#000"},
    "encoding": {"x": {"field": "m", "type": "quantitative", "scale": {"domain": [0, 20.84], "nice": false, "zero": false}, "title": ""}, "y": {"datum": -0.245, "type": "quantitative", "scale": {"domain": [-0.1, 0.588], "nice": false, "zero": false}, "title": ""}, "text": {"field": "label"}}},
   {"data": {"values": [{"label": "Annual"}]}, "mark": {"type": "text", "align": "right", "baseline": "middle", "angle": 270, "fontSize": 28, "fontStyle": "italic", "font": "Liberation Serif", "color": "#000"},
    "encoding": {"x": {"datum": 20, "type": "quantitative", "scale": {"domain": [0, 20.84], "nice": false, "zero": false}, "title": ""}, "y": {"datum": -0.139, "type": "quantitative", "scale": {"domain": [-0.1, 0.588], "nice": false, "zero": false}, "title": ""}, "text": {"field": "label"}}}
  ]
 }
]
}
